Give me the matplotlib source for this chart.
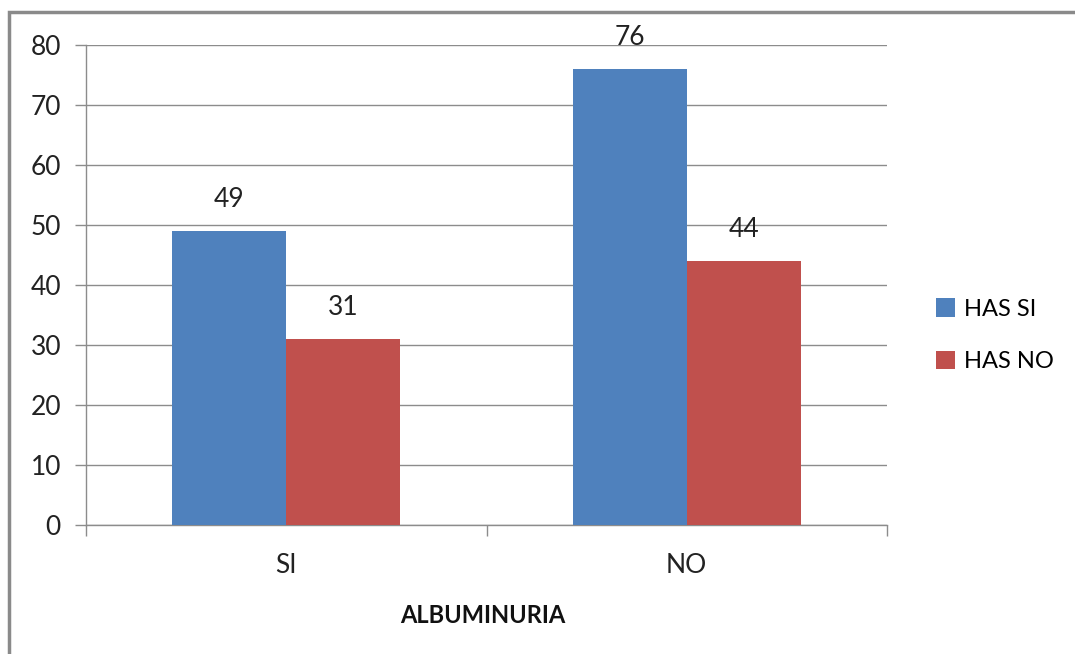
import numpy as np
import matplotlib.pyplot as plt
from matplotlib.patches import Rectangle

plt.rcParams['font.family'] = ['Lato', 'DejaVu Sans']

# Data
categories = ['SI', 'NO']
series_names = ['HAS SI', 'HAS NO']
has_si = [49, 76]
has_no = [31, 44]
colors = ['#4F81BD', '#C0504D']

fig = plt.figure(figsize=(10.75, 6.54), dpi=100)

# gray frame around the chart area
fig.patches.append(Rectangle((9 / 1075, -0.1), 1.2, 1 - 12 / 654 + 0.1,
                             transform=fig.transFigure, fill=False,
                             edgecolor='#8a8a8a', linewidth=2.5, zorder=0))

ax = fig.add_axes([86 / 1075, 1 - 525 / 654, 801 / 1075, 480 / 654])

x = np.arange(len(categories))
w = 0.285
bars1 = ax.bar(x - w / 2, has_si, w, color=colors[0], label=series_names[0], zorder=3)
bars2 = ax.bar(x + w / 2, has_no, w, color=colors[1], label=series_names[1], zorder=3)

for bars, vals in [(bars1, has_si), (bars2, has_no)]:
    for b, v in zip(bars, vals):
        ax.annotate(str(v), (b.get_x() + b.get_width() / 2, v),
                    xytext=(0, 14), textcoords='offset points',
                    ha='center', va='bottom', fontsize=19, color='#222222')

ax.set_xlim(-0.5, 1.5)
ax.set_ylim(0, 80)
ax.set_yticks(range(0, 81, 10))
ax.yaxis.grid(True, color='#8c8c8c', linewidth=1.0, zorder=0)
ax.set_axisbelow(True)

# category labels centered, tick marks on the boundaries
ax.set_xticks([-0.5, 0.5, 1.5])
ax.set_xticklabels([])
ax.set_xticks(x, minor=True)
ax.set_xticklabels(categories, minor=True, fontsize=19, color='#222222')
ax.tick_params(axis='x', which='minor', length=0, pad=20)
ax.tick_params(axis='x', which='major', length=8, color='#8c8c8c', width=1)
ax.tick_params(axis='y', length=8, color='#8c8c8c', width=1, labelsize=19,
               labelcolor='#222222', pad=10)

for side in ['top', 'right']:
    ax.spines[side].set_visible(False)
for side in ['left', 'bottom']:
    ax.spines[side].set_color('#8c8c8c')
    ax.spines[side].set_linewidth(1.0)

ax.set_xlabel('ALBUMINURIA', fontsize=17, fontweight='bold', labelpad=16,
              color='#111111')
ax.xaxis.set_label_coords(0.4955, -0.165)

ax.legend(loc='center left', bbox_to_anchor=(1.061, 0.395), frameon=False,
          fontsize=17, handlelength=0.8, handleheight=0.8, handletextpad=0.4,
          labelspacing=1.33, borderpad=0, borderaxespad=0)

fig.savefig('out.png', dpi=100)
